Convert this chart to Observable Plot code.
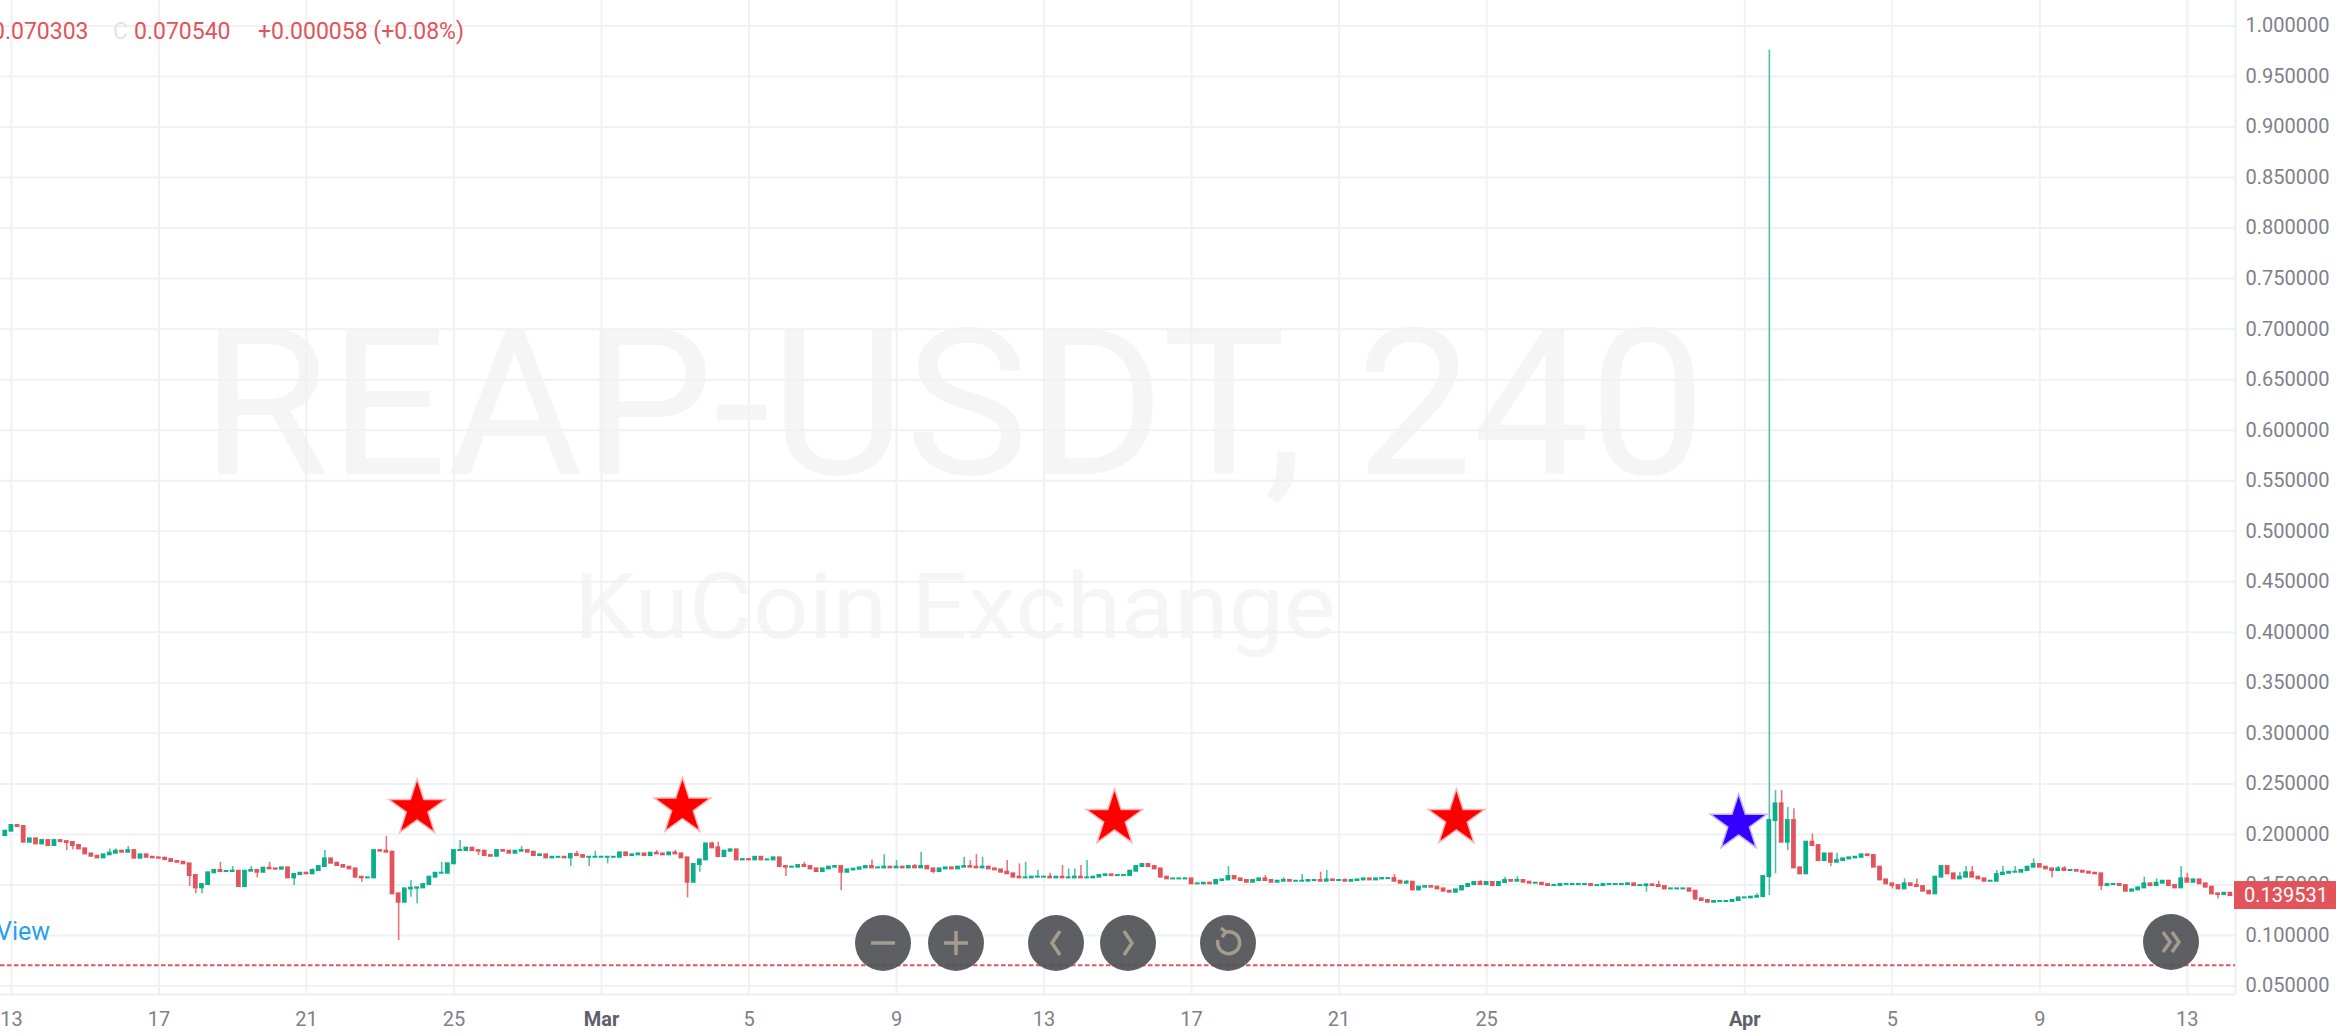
<!DOCTYPE html>
<html><head><meta charset="utf-8">
<script src="https://cdn.jsdelivr.net/npm/d3@7"></script>
<script src="https://cdn.jsdelivr.net/npm/@observablehq/plot@0.6"></script>
<style>
html,body{margin:0;padding:0;background:#fff;}
#chart{position:relative;width:2336px;height:1036px;overflow:hidden;background:#fff;}
</style></head><body><div id="chart"></div>
<script>
// ---------------- data ----------------
const symbolTitle = "REAP-USDT, 240";
const exchangeTitle = "KuCoin Exchange";
const firstCandle = "2022-02-12T20:00:00Z";   // 4h candles
const firstOpen = 0.1989;
const closes = [
 0.2032,0.2088,0.2078,0.1923,0.1956,0.1906,0.1939,0.1890,0.1939,0.1929,0.1920,0.1890,
 0.1857,0.1807,0.1784,0.1768,0.1798,0.1814,0.1834,0.1824,0.1840,0.1765,0.1798,0.1774,
 0.1768,0.1765,0.1751,0.1732,0.1725,0.1709,0.1593,0.1471,0.1504,0.1620,0.1643,0.1633,
 0.1633,0.1636,0.1484,0.1636,0.1643,0.1626,0.1666,0.1659,0.1656,0.1669,0.1570,0.1603,
 0.1616,0.1610,0.1643,0.1682,0.1758,0.1715,0.1692,0.1676,0.1659,0.1577,0.1570,0.1570,
 0.1840,0.1834,0.1824,0.1412,0.1329,0.1461,0.1468,0.1471,0.1504,0.1577,0.1616,0.1616,
 0.1709,0.1840,0.1840,0.1864,0.1840,0.1834,0.1791,0.1784,0.1840,0.1834,0.1814,0.1834,
 0.1840,0.1824,0.1791,0.1798,0.1768,0.1774,0.1774,0.1768,0.1801,0.1791,0.1774,0.1774,
 0.1774,
 0.1774,0.1774,0.1774,0.1817,0.1791,0.1798,0.1807,0.1791,0.1814,0.1807,0.1798,0.1817,
 0.1807,0.1768,0.1527,0.1702,0.1748,0.1906,0.1867,0.1781,0.1834,0.1847,0.1748,0.1751,
 0.1748,0.1774,0.1748,0.1748,0.1768,0.1682,0.1676,0.1676,0.1692,0.1682,0.1659,0.1633,
 0.1659,0.1676,0.1682,0.1626,0.1649,0.1656,0.1669,0.1682,0.1669,0.1669,0.1676,0.1669,
 0.1676,0.1669,0.1682,0.1669,0.1682,0.1659,0.1633,0.1659,0.1669,0.1659,0.1676,0.1682,
 0.1676,0.1669,0.1676,0.1659,0.1649,0.1626,0.1610,0.1577,0.1570,0.1570,0.1577,0.1577,
 0.1577,0.1570,0.1577,0.1570,0.1570,0.1577,0.1570,0.1570,0.1577,0.1593,0.1600,0.1593,
 0.1593,0.1593,0.1636,0.1682,0.1702,0.1682,0.1659,0.1577,0.1560,0.1560,0.1560,0.1560,
 0.1511,0.1511,
 0.1517,0.1511,0.1544,0.1550,0.1583,0.1560,0.1544,0.1527,0.1544,0.1560,0.1544,0.1527,
 0.1537,0.1544,0.1537,0.1537,0.1537,0.1544,0.1544,0.1537,0.1550,0.1544,0.1544,0.1537,
 0.1544,0.1550,0.1560,0.1550,0.1560,0.1563,0.1563,0.1537,0.1517,0.1527,0.1451,0.1478,
 0.1484,0.1478,0.1461,0.1438,0.1428,0.1451,0.1484,0.1504,0.1524,0.1504,0.1524,0.1494,
 0.1524,0.1544,0.1537,0.1544,0.1527,0.1517,0.1517,0.1504,0.1494,0.1494,0.1504,0.1504,
 0.1504,0.1504,0.1504,0.1494,0.1494,0.1504,0.1504,0.1504,0.1504,0.1511,0.1494,0.1494,
 0.1501,0.1494,0.1484,0.1461,0.1461,0.1461,0.1461,0.1438,0.1362,0.1346,0.1329,0.1336,
 0.1336,0.1336,0.1346,0.1372,0.1372,0.1379,0.1385,0.1583,0.2137,0.2302,0.1923,0.2137,
 0.1669,0.1610,0.1923,0.1890,0.1741,0.1807,0.1725,0.1741,0.1758,0.1768,0.1774,0.1798,
 0.1791,0.1676,0.1550,0.1511,0.1494,0.1461,0.1511,0.1494,0.1484,0.1438,0.1412,0.1577,
 0.1682,0.1610,0.1560,0.1577,0.1620,0.1577,0.1560,0.1537,0.1537,0.1603,0.1616,0.1626,
 0.1626,0.1643,0.1676,0.1702,0.1676,0.1659,0.1643,0.1659,0.1643,0.1643,0.1636,0.1626,
 0.1616,0.1610,0.1494,0.1504,0.1504,0.1494,0.1438,0.1451,0.1471,0.1511,0.1494,0.1517,
 0.1537,0.1494,0.1471,0.1560,0.1527,0.1550,0.1511,0.1478,0.1412,0.1405,0.1418,0.1395
];
// upper wicks [candle index, high]
const highWicks = [
 [17,0.1857],[18,0.1857],[20,0.188],[35,0.1725],[37,0.1682],[40,0.1682],[43,0.1725],[50,0.166],
 [52,0.184],[62,0.1979],[66,0.1544],[71,0.1725],[74,0.1939],[84,0.188],[93,0.1834],[96,0.1834],
 [106,0.184],[109,0.184],[115,0.1923],[116,0.1923],[130,0.1725],[141,0.1748],[143,0.1798],
 [145,0.1741],[148,0.1702],[149,0.1824],[156,0.1774],[157,0.1741],[158,0.1801],[159,0.1774],
 [163,0.1741],[165,0.1709],[166,0.1725],[168,0.1643],[170,0.1616],[172,0.1692],[173,0.1659],
 [174,0.1659],[175,0.1692],[176,0.1741],[199,0.1682],[205,0.1593],[208,0.157],[211,0.1603],
 [214,0.1626],[215,0.1643],[218,0.156],[226,0.1603],[228,0.1544],[240,0.1544],[244,0.1577],
 [246,0.1583],[269,0.1537],[285,0.1412],[287,0.976],[288,0.2434],[289,0.2434],[290,0.2269],
 [291,0.2253],[294,0.2005],[298,0.1814],[309,0.156],[311,0.156],[318,0.1626],[319,0.1682],
 [320,0.1682],[324,0.1643],[325,0.1682],[327,0.1682],[330,0.1758],[334,0.1682],[335,0.1682],
 [348,0.1577],[350,0.156],[354,0.1682],[355,0.1616]
];
// lower wicks [candle index, low]
const lowWicks = [
 [10,0.184],[11,0.1847],[30,0.1484],[31,0.1412],[32,0.1412],[41,0.157],[47,0.1494],[58,0.1527],
 [64,0.095],[66,0.1379],[67,0.1313],[77,0.1791],[92,0.1682],[95,0.1682],[98,0.1709],[111,0.1372],
 [113,0.1626],[127,0.1583],[136,0.1445],[151,0.161],[267,0.1428],[275,0.1346],[286,0.1379],
 [287,0.1395],[288,0.161],[290,0.184],[297,0.1682],[307,0.1461],[333,0.157],[341,0.1445],[360,0.1362]
];
const refLevel = 0.070540;
const lastPrice = 0.139531;
const legendOpen = "0.070303", legendCloseTag = "C", legendClose = "0.070540", legendChange = "+0.000058 (+0.08%)";
const yTicks = [0.05,0.10,0.15,0.20,0.25,0.30,0.35,0.40,0.45,0.50,0.55,0.60,0.65,0.70,0.75,0.80,0.85,0.90,0.95,1.00];
const dayTicks = ["2022-02-13","2022-02-17","2022-02-21","2022-02-25","2022-03-05","2022-03-09","2022-03-13","2022-03-17","2022-03-21","2022-03-25","2022-04-05","2022-04-09","2022-04-13"];
const monthTicks = ["2022-03-01","2022-04-01"];
const monthNames = ["Mar","Apr"];
const starTimes = ["2022-02-24T00:00Z","2022-03-03T04:40Z","2022-03-14T21:50Z","2022-03-24T04:20Z","2022-03-31T20:00Z"];
const starPrices = [0.2256,0.2269,0.2157,0.2157,0.2108];
const starColors = ["#ff0000","#ff0000","#ff0000","#ff0000","#3300ff"];

// ---------------- build ----------------
const UP = "#0aae8b", DOWN = "#e2545b", UPW = "#4bc3aa", DOWNW = "#e8757c";
const H4 = 4*3600e3, DAY = 864e5;
const t0 = Date.parse(firstCandle);
const hiMap = new Map(highWicks), loMap = new Map(lowWicks);
const candles = closes.map((c, i) => {
  const o = i === 0 ? firstOpen : closes[i-1];
  const t = t0 + i*H4;
  return {
    t: new Date(t), t1: new Date(t - 1.55*3600e3), t2: new Date(t + 1.55*3600e3),
    open: o, close: c,
    high: Math.max(o, c, hiMap.get(i) ?? 0),
    low: Math.min(o, c, loMap.get(i) ?? Infinity),
    up: c >= o
  };
});
const mar1 = Date.UTC(2022,2,1);
const xDomain = [new Date(mar1 - 16.296*DAY), new Date(mar1 + 44.306*DAY)];
const stars = starTimes.map((s,i) => ({t: new Date(s), p: starPrices[i], c: starColors[i]}));
const dayDates = dayTicks.map(d => new Date(d + "T00:00Z"));
const monthDates = monthTicks.map(d => new Date(d + "T00:00Z"));
const allTicks = [...dayDates, ...monthDates];
const FONT = "Roboto, 'Liberation Sans', sans-serif";

const chart = Plot.plot({
  width: 2336, height: 1036,
  marginLeft: 0, marginRight: 101, marginTop: 0, marginBottom: 42,
  style: {background: "#ffffff", fontFamily: FONT, overflow: "hidden"},
  x: {type: "utc", domain: xDomain},
  y: {domain: [0.0416, 1.0252]},
  marks: [
    Plot.gridX(allTicks, {stroke: "#f0f1f3", strokeOpacity: 1, strokeWidth: 2}),
    Plot.gridY(yTicks, {stroke: "#f0f1f3", strokeOpacity: 1, strokeWidth: 2}),
    Plot.ruleX([xDomain[1]], {stroke: "#eceef1", strokeWidth: 2}),
    Plot.ruleY([0.0416], {stroke: "#eceef1", strokeWidth: 2}),
    Plot.ruleY([refLevel], {stroke: DOWN, strokeWidth: 2, strokeDasharray: "4.5,2.5"}),
    Plot.ruleX(candles, {x: "t", y1: "low", y2: "high", stroke: d => d.up ? UPW : DOWNW, strokeWidth: 1.6}),
    Plot.rect(candles, {x1: "t1", x2: "t2", y1: "open", y2: "close", fill: d => d.up ? UP : DOWN, insetTop: -1, insetBottom: -1}),
    Plot.dot(stars, {x: "t", y: "p", symbol: "star", r: 16.3, fill: "c", stroke: "c", strokeOpacity: 0.3, strokeWidth: 3}),
    Plot.axisY(yTicks, {anchor: "right", tickSize: 0, tickPadding: 10, tickFormat: d3.format(".6f"), fontSize: 20, fill: "#7e818a", label: null}),
    Plot.axisX(dayDates, {anchor: "bottom", tickSize: 0, tickPadding: 17, tickFormat: d => String(d.getUTCDate()), fontSize: 20, fill: "#7e818a", label: null}),
    Plot.axisX(monthDates, {anchor: "bottom", tickSize: 0, tickPadding: 17, tickFormat: (d) => monthNames[monthDates.findIndex(m => +m === +d)], fontSize: 20, fontWeight: "bold", fill: "#5d606b", label: null})
  ]
});
document.getElementById("chart").appendChild(chart);

// ---------------- overlays ----------------
const svg = d3.select(chart);
const ys = chart.scale("y");
// watermark behind the grid
const wm = svg.insert("g", "g").attr("font-family", FONT).attr("fill", "#f5f5f6").attr("text-anchor", "start");
wm.append("text").attr("x", 201).attr("y", 474).attr("font-size", 205)
  .attr("textLength", 1505).attr("lengthAdjust", "spacingAndGlyphs").text(symbolTitle);
wm.append("text").attr("x", 574).attr("y", 638).attr("font-size", 90)
  .attr("textLength", 762).attr("lengthAdjust", "spacingAndGlyphs").text(exchangeTitle);

// legend line
const lg = svg.append("g").attr("font-family", FONT).attr("font-size", 23).attr("text-anchor", "start");
lg.append("text").attr("x", -8).attr("y", 39).attr("fill", DOWN).text(legendOpen);
lg.append("text").attr("x", 113).attr("y", 39).attr("fill", "#e3e4e7").text(legendCloseTag);
lg.append("text").attr("x", 134).attr("y", 39).attr("fill", DOWN).text(legendClose);
lg.append("text").attr("x", 258).attr("y", 39).attr("fill", DOWN).text(legendChange);

// watermark "View"
svg.append("text").attr("x", -4).attr("y", 940).attr("text-anchor", "start").attr("font-family", FONT).attr("font-size", 25)
  .attr("fill", "#2a9ff0").text("View");

// last price label
const ly = ys.apply(lastPrice);
svg.append("rect").attr("x", 2234).attr("y", ly - 14).attr("width", 102).attr("height", 28).attr("fill", DOWN);
svg.append("text").attr("x", 2244).attr("y", ly).attr("dy", "0.35em").attr("text-anchor", "start").attr("font-family", FONT)
  .attr("font-size", 20).attr("fill", "#fff").text(d3.format(".6f")(lastPrice));

// navigation buttons
const btns = [
  [883, 943, "M-12,0H12"],
  [956, 943, "M-12,0H12M0,-12V12"],
  [1056, 943, "M4,-12L-4,0L4,12"],
  [1128, 943, "M-4,-12L4,0L-4,12"],
  [1228, 943, "M-2,-11A11,11 0 1 1 -10,-3M-7,-15L-2,-11L-6,-6"],
  [2171, 942, "M-8,-10L-1,0L-8,10M1,-10L8,0L1,10"]
];
const bg = svg.append("g");
for (const [cx, cy, p] of btns) {
  const g = bg.append("g").attr("transform", `translate(${cx},${cy})`);
  g.append("circle").attr("r", 28).attr("fill", "#525357").attr("fill-opacity", 0.93);
  g.append("path").attr("d", p).attr("fill", "none").attr("stroke", "#a59c8e").attr("stroke-width", 3.5);
}
</script>
</body></html>
